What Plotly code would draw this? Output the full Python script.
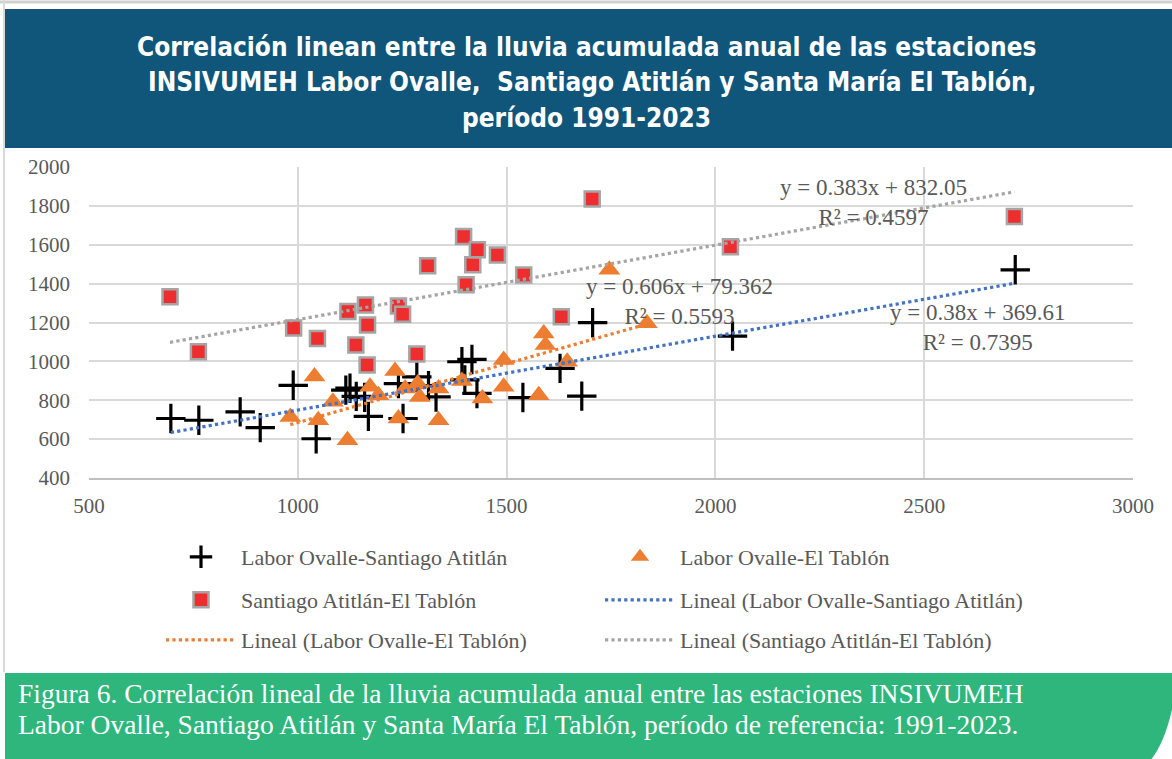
import plotly.graph_objects as go

# ---------------- data ----------------
series_names = ["Labor Ovalle-Santiago Atitlán", "Labor Ovalle-El Tablón", "Santiago Atitlán-El Tablón"]

lo_sa_x = [696, 763, 862, 910, 989, 1044, 1115, 1125, 1140, 1160, 1169, 1241, 1252, 1285, 1313,
           1331, 1393, 1417, 1400, 1429, 1539, 1628, 1680, 1706, 2041, 2718]
lo_sa_y = [706, 697, 740, 659, 877, 602, 852, 862, 820, 815, 717, 886, 706, 920, 875,
           817, 998, 1010, 905, 835, 814, 964, 821, 1199, 1130, 1471]

lo_et_x = [982, 1040, 1049, 1084, 1119, 1173, 1193, 1233, 1241, 1257, 1287, 1292, 1337, 1337,
           1393, 1442, 1493, 1493, 1577, 1589, 1593, 1645, 1746, 1836]
lo_et_y = [714, 922, 697, 792, 594, 869, 826, 950, 706, 860, 886, 817, 860, 697,
           899, 809, 1007, 869, 826, 1144, 1084, 998, 1471, 1196]

sa_et_x = [694, 762, 990, 1047, 1120, 1139, 1162, 1167, 1166, 1241, 1251, 1285, 1311, 1397,
           1403, 1419, 1430, 1478, 1541, 1631, 1705, 2036, 2716]
sa_et_y = [1332, 1050, 1172, 1118, 1256, 1084, 1290, 1187, 981, 1285, 1242, 1038, 1492, 1643,
           1394, 1497, 1574, 1547, 1445, 1230, 1836, 1590, 1745]

trend_names = ["Lineal (Labor Ovalle-Santiago Atitlán)", "Lineal (Labor Ovalle-El Tablón)",
               "Lineal (Santiago Atitlán-El Tablón)"]
trend_slope = [0.38, 0.606, 0.383]
trend_intercept = [369.61, 79.362, 832.05]
trend_labels = ["y = 0.38x + 369.61<br>R² = 0.7395",
                "y = 0.606x + 79.362<br>R² = 0.5593",
                "y = 0.383x + 832.05<br>R² = 0.4597"]

x_ticks = [500, 1000, 1500, 2000, 2500, 3000]
y_ticks = [400, 600, 800, 1000, 1200, 1400, 1600, 1800, 2000]

title_lines = ["Correlación linean entre la lluvia acumulada anual de las estaciones",
               "INSIVUMEH Labor Ovalle,  Santiago Atitlán y Santa María El Tablón,",
               "período 1991-2023"]
caption_lines = ["Figura 6. Correlación lineal de la lluvia acumulada anual entre las estaciones INSIVUMEH",
                 "Labor Ovalle, Santiago Atitlán y Santa María El Tablón, período de referencia: 1991-2023."]

# ---------------- layout helpers ----------------
W, H = 1172, 759
L, R, T, B = 89, 1133, 167, 478


def px(xp):
    return (xp - L) / (R - L)


def py(yp):
    return (B - yp) / (B - T)


SERIF = "Liberation Serif, Times New Roman, serif"
GRAY_TXT = "#595959"

fig = go.Figure()

fig.add_trace(go.Scatter(
    x=lo_sa_x, y=lo_sa_y, mode="markers", name=series_names[0], legend="legend",
    marker=dict(symbol="cross-thin", size=21, color="black", line=dict(color="black", width=3.2))))
fig.add_trace(go.Scatter(
    x=lo_et_x, y=lo_et_y, mode="markers", name=series_names[1], legend="legend",
    marker=dict(symbol="triangle-up", size=19, color="#ED7D31", line=dict(width=0))))
fig.add_trace(go.Scatter(
    x=sa_et_x, y=sa_et_y, mode="markers", name=series_names[2], legend="legend2",
    marker=dict(symbol="square", size=15, color="#EE2E2E", line=dict(color="#A5A5A5", width=2.5))))

trend_colors = ["#4472C4", "#ED7D31", "#A5A5A5"]
trend_x = [lo_sa_x, lo_et_x, sa_et_x]
trend_legends = ["legend2", "legend3", "legend3"]
for i in range(3):
    x0, x1 = min(trend_x[i]), max(trend_x[i])
    fig.add_trace(go.Scatter(
        x=[x0, x1],
        y=[trend_slope[i] * x0 + trend_intercept[i], trend_slope[i] * x1 + trend_intercept[i]],
        mode="lines", name=trend_names[i], legend=trend_legends[i],
        line=dict(color=trend_colors[i], width=3.2, dash="dot")))

# trend equation labels
label_pos = [(2628, 1172), (1914, 1306), (2378, 1815)]
for (lx, ly), txt in zip(label_pos, trend_labels):
    fig.add_annotation(x=lx, y=ly, xref="x", yref="y", text=txt, showarrow=False,
                       align="center", font=dict(family=SERIF, size=23, color=GRAY_TXT))

shapes = [
    # outer light border lines
    dict(type="line", xref="paper", yref="paper", x0=px(0), x1=px(W), y0=py(2), y1=py(2),
         line=dict(color="#d0d0d0", width=3), layer="below"),
    dict(type="line", xref="paper", yref="paper", x0=px(4), x1=px(4), y0=py(0), y1=py(672),
         line=dict(color="#d9d9d9", width=2), layer="below"),
    # header band
    dict(type="rect", xref="paper", yref="paper", x0=px(5), x1=px(W + 2), y0=py(148), y1=py(9),
         fillcolor="#10567B", line=dict(width=0), layer="below"),
    # footer band with curved corner
    dict(type="path", xref="paper", yref="paper",
         path=(f"M {px(5)},{py(673)} L {px(W + 2)},{py(673)} L {px(W + 2)},{py(700)} "
               f"Q {px(1166)},{py(742)} {px(1150)},{py(H + 2)} L {px(5)},{py(H + 2)} Z"),
         fillcolor="#2EB67D", line=dict(width=0), layer="below"),
]

for ty, tx, line in zip([47, 82, 118], [586, 592, 586], title_lines):
    fig.add_annotation(x=px(tx), y=py(ty), xref="paper", yref="paper", text="<b>" + line + "</b>",
                       showarrow=False, xanchor="center", yanchor="middle",
                       font=dict(family="Liberation Sans Narrow, DejaVu Sans Condensed, Arial Narrow, sans-serif",
                                 size=26, color="white"))
for cy, line in zip([693, 724], caption_lines):
    fig.add_annotation(x=px(16), y=py(cy), xref="paper", yref="paper", text=line,
                       showarrow=False, align="left", xanchor="left", yanchor="middle",
                       font=dict(family=SERIF, size=27.5, color="white"))

legend_common = dict(orientation="h", xanchor="left", yanchor="middle", bgcolor="rgba(0,0,0,0)",
                     font=dict(family=SERIF, size=22, color=GRAY_TXT), itemwidth=70,
                     entrywidth=354, entrywidthmode="pixels", itemclick=False, itemdoubleclick=False)

fig.update_layout(
    width=W, height=H,
    margin=dict(l=L, r=W - R, t=T, b=H - B),
    paper_bgcolor="white", plot_bgcolor="white",
    shapes=shapes,
    xaxis=dict(range=[500, 3000], tickvals=x_ticks, showgrid=True, gridcolor="#d9d9d9", gridwidth=1.5,
               zeroline=False, showline=True, linecolor="#bfbfbf", linewidth=1.5,
               tickfont=dict(family=SERIF, size=21, color=GRAY_TXT), ticks="", ticklabelstandoff=8),
    yaxis=dict(range=[400, 2000], tickvals=y_ticks, showgrid=True, gridcolor="#d9d9d9", gridwidth=1.5,
               zeroline=False, showline=False,
               tickfont=dict(family=SERIF, size=21, color=GRAY_TXT), ticks="", ticklabelstandoff=18),
    legend=dict(x=px(161), y=py(557), **legend_common),
    legend2=dict(x=px(161), y=py(600), **legend_common),
    legend3=dict(x=px(161), y=py(640), **legend_common),
    showlegend=True,
)

fig.write_html("out.html", config={"displayModeBar": False},
               post_script="document.body.style.margin='0';")
